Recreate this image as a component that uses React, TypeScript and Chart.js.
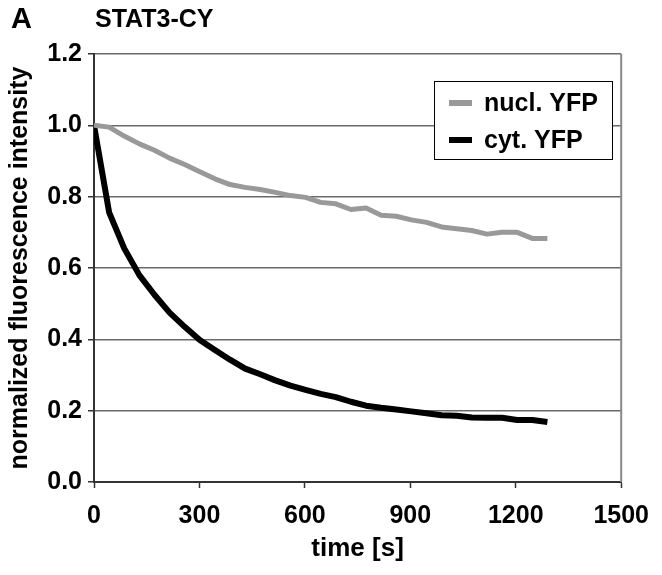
import React, { useEffect, useRef } from "react";
import { Chart, registerables } from "chart.js";

Chart.register(...registerables);

const timeS = [0, 43, 86, 129, 172, 215, 258, 301, 344, 387, 430, 473, 516, 559, 602, 645, 688, 731, 774, 817, 860, 903, 946, 989, 1032, 1075, 1118, 1161, 1204, 1247, 1290];
const nuclYFP = [1.0, 0.995, 0.97, 0.948, 0.93, 0.908, 0.89, 0.87, 0.85, 0.834, 0.826, 0.82, 0.812, 0.803, 0.798, 0.784, 0.78, 0.764, 0.768, 0.748, 0.745, 0.735, 0.728, 0.715, 0.71, 0.705, 0.695, 0.7, 0.7, 0.683, 0.683];
const cytYFP = [1.0, 0.756, 0.655, 0.58, 0.525, 0.475, 0.435, 0.398, 0.37, 0.343, 0.318, 0.302, 0.285, 0.27, 0.258, 0.247, 0.238, 0.225, 0.214, 0.208, 0.203, 0.198, 0.193, 0.187, 0.186, 0.181, 0.18, 0.18, 0.174, 0.174, 0.168];
const seriesLabels = ["nucl. YFP", "cyt. YFP"];
const seriesColors = ["#999999", "#000000"];
const xTicks = [0, 300, 600, 900, 1200, 1500];
const yTicks = [0, 0.2, 0.4, 0.6, 0.8, 1.0, 1.2];
const panelLetter = "A";
const chartTitle = "STAT3-CY";
const xTitle = "time [s]";
const yTitle = "normalized fluorescence intensity";

const FONT = "'Liberation Sans', Arial, sans-serif";

const decorPlugin = {
  id: "decor",
  afterDraw(chart: any) {
    const ctx = chart.ctx;
    const ca = chart.chartArea;
    ctx.save();
    // right border
    ctx.strokeStyle = "#888888";
    ctx.lineWidth = 2;
    ctx.beginPath();
    ctx.moveTo(ca.right, ca.top);
    ctx.lineTo(ca.right, ca.bottom);
    ctx.stroke();
    // titles
    ctx.fillStyle = "#000";
    ctx.textBaseline = "alphabetic";
    ctx.textAlign = "left";
    ctx.font = `bold 29px ${FONT}`;
    ctx.fillText(panelLetter, 11, 28);
    ctx.font = `bold 25px ${FONT}`;
    ctx.fillText(chartTitle, 95, 27);
    // legend
    const lx = 434, ly = 81, lw = 178, lh = 78;
    ctx.fillStyle = "#fff";
    ctx.fillRect(lx, ly, lw, lh);
    ctx.strokeStyle = "#000";
    ctx.lineWidth = 1;
    ctx.strokeRect(lx + 0.5, ly + 0.5, lw, lh);
    const rows = [103, 140];
    ctx.font = `bold 25px ${FONT}`;
    ctx.textBaseline = "middle";
    rows.forEach((ry, i) => {
      ctx.strokeStyle = seriesColors[i];
      ctx.lineWidth = 6;
      ctx.beginPath();
      ctx.moveTo(449, ry);
      ctx.lineTo(472, ry);
      ctx.stroke();
      ctx.fillStyle = "#000";
      ctx.fillText(seriesLabels[i], 484, ry + 1);
    });
    ctx.restore();
  },
};

export default function App() {
  const ref = useRef<HTMLCanvasElement>(null);
  useEffect(() => {
    const canvas = ref.current!;
    const chart = new Chart(canvas, {
      type: "line",
      data: {
        datasets: [
          {
            label: seriesLabels[0],
            data: timeS.map((t, i) => ({ x: t, y: nuclYFP[i] })),
            borderColor: seriesColors[0],
            borderWidth: 5,
            pointRadius: 0,
            tension: 0,
            borderJoinStyle: "round",
          },
          {
            label: seriesLabels[1],
            data: timeS.map((t, i) => ({ x: t, y: cytYFP[i] })),
            borderColor: seriesColors[1],
            borderWidth: 6,
            pointRadius: 0,
            tension: 0,
            borderJoinStyle: "round",
          },
        ],
      },
      options: {
        animation: false,
        responsive: false,
        devicePixelRatio: 1,
        layout: { padding: { left: 0, right: 31, top: 54, bottom: 0 } },
        plugins: { legend: { display: false }, tooltip: { enabled: false }, title: { display: false } },
        scales: {
          x: {
            type: "linear",
            min: 0,
            max: 1500,
            afterBuildTicks: (s: any) => {
              s.ticks = xTicks.map((v) => ({ value: v }));
            },
            afterFit: (s: any) => {
              s.height = 93;
            },
            ticks: {
              color: "#000",
              font: { family: FONT, size: 25, weight: "bold" },
              padding: 13,
              maxRotation: 0,
              callback: (v: any) => String(v),
            },
            grid: { drawOnChartArea: false, drawTicks: true, tickLength: 6, tickColor: "#333", tickWidth: 1.5 },
            border: { color: "#333", width: 2 },
            title: {
              display: true,
              text: xTitle,
              color: "#000",
              font: { family: FONT, size: 26, weight: "bold" },
              padding: { top: 0, bottom: 11 },
            },
          },
          y: {
            type: "linear",
            min: 0,
            max: 1.2,
            afterBuildTicks: (s: any) => {
              s.ticks = yTicks.map((v) => ({ value: v }));
            },
            afterFit: (s: any) => {
              s.width = 94;
            },
            ticks: {
              color: "#000",
              font: { family: FONT, size: 25, weight: "bold" },
              padding: 6,
              callback: (v: any) => Number(v).toFixed(1),
            },
            grid: { color: "#6a6a6a", lineWidth: 1.5, drawTicks: true, tickLength: 6, tickColor: "#333" },
            border: { color: "#333", width: 2 },
            title: {
              display: true,
              text: yTitle,
              color: "#000",
              font: { family: FONT, size: 25, weight: "bold" },
              padding: { top: 5, bottom: 0 },
            },
          },
        },
      },
      plugins: [decorPlugin],
    });
    return () => chart.destroy();
  }, []);
  return (
    <div style={{ position: "absolute", left: 0, top: 0, width: 662, height: 575, background: "#fff" }}>
      <canvas ref={ref} width={662} height={575} style={{ width: 662, height: 575, display: "block" }} />
    </div>
  );
}
